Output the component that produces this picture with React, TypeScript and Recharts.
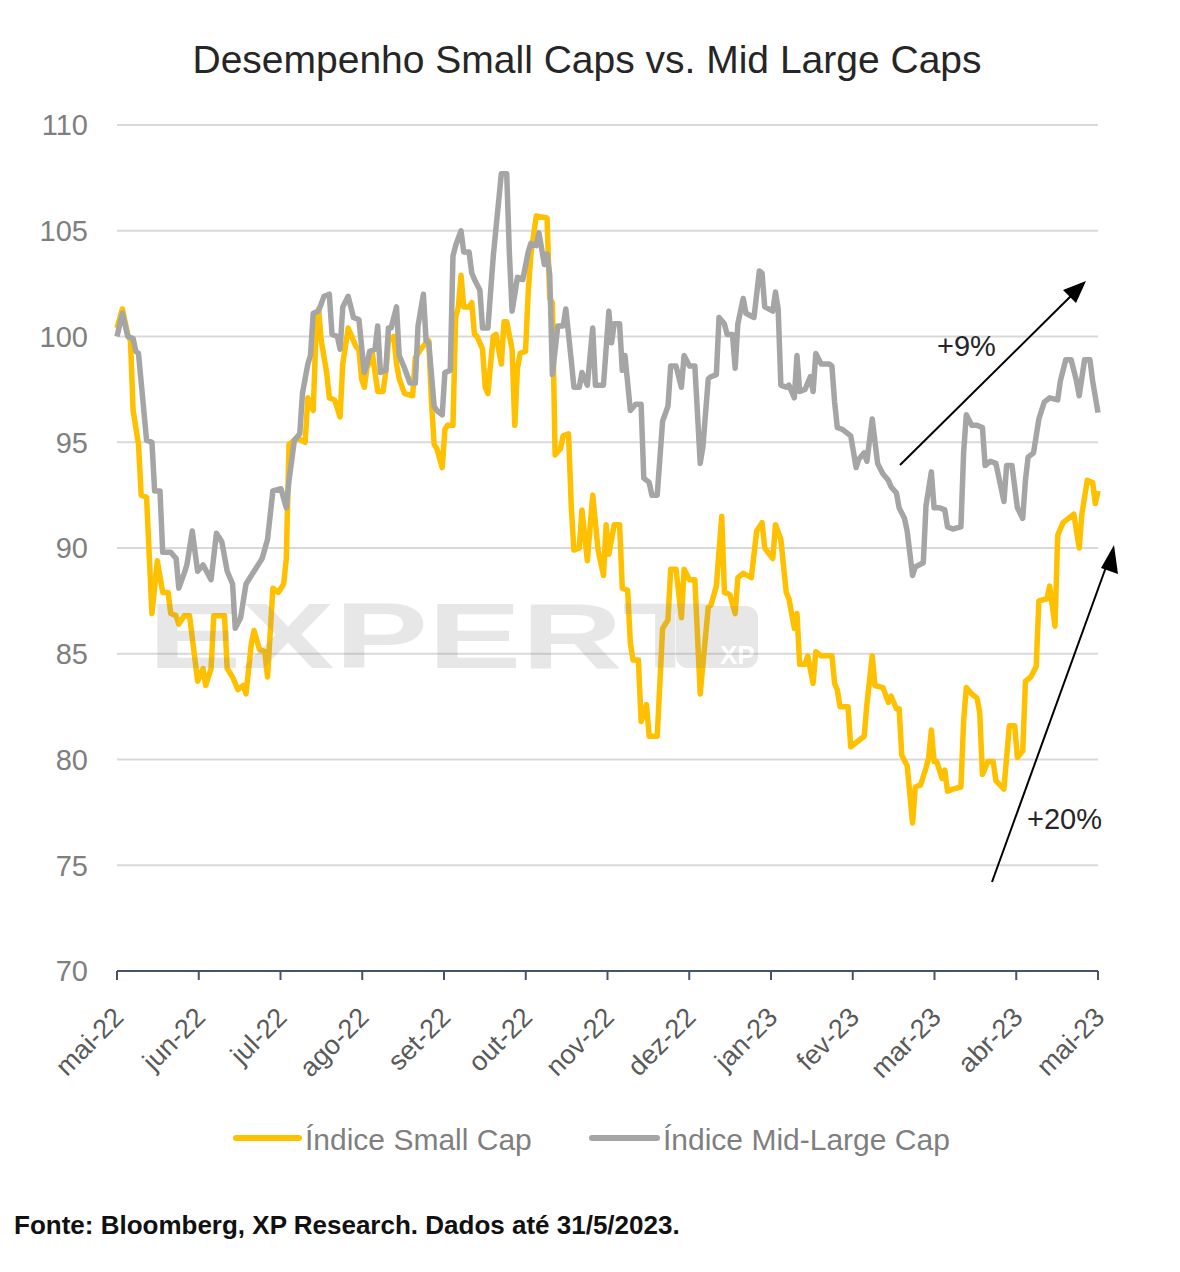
import React from 'react';
import { LineChart, Line, XAxis, YAxis, CartesianGrid } from 'recharts';

// Month labels on the x axis (mai-22 .. mai-23), 365 days span
const monthLabels = [
  'mai-22', 'jun-22', 'jul-22', 'ago-22', 'set-22', 'out-22', 'nov-22',
  'dez-22', 'jan-23', 'fev-23', 'mar-23', 'abr-23', 'mai-23',
];
const yTicks = [70, 75, 80, 85, 90, 95, 100, 105, 110];

// [day since 1/5/2022, index value]
const smallCap: [number, number][] = [
  [0, 100.4], [2, 101.3], [4, 100.1], [5, 99.8], [6, 96.5], [8, 94.9], [9, 92.5], [11, 92.4],
  [13, 86.9], [15, 89.4], [17, 87.9], [19, 87.9], [20, 86.9], [22, 86.8], [23, 86.4], [25, 86.8],
  [27, 86.8], [30, 83.7], [32, 84.3], [33, 83.5], [35, 84.3], [36, 86.8], [40, 86.8], [41, 84.3],
  [43, 83.9], [45, 83.3], [47, 83.5], [48, 83.1], [50, 85.5], [51, 86.1], [53, 85.2], [55, 85.1],
  [56, 83.9], [58, 88.1], [60, 87.9], [62, 88.3], [63, 89.5], [64, 94.9], [67, 95.2], [70, 95.0],
  [71, 97.1], [73, 96.5], [74, 100.0], [75, 101.3], [76, 99.8], [78, 98.3], [79, 97.1], [81, 97.0],
  [83, 96.2], [84, 98.7], [86, 100.4], [87, 100.1], [89, 99.5], [90, 99.4], [91, 98.0], [92, 97.6],
  [93, 98.5], [95, 99.2], [97, 97.4], [99, 97.4], [100, 98.3], [101, 99.8], [103, 100.0], [104, 98.7],
  [105, 98.0], [107, 97.3], [110, 97.2], [111, 99.0], [113, 99.4], [115, 99.7], [116, 99.8], [117, 96.9],
  [118, 94.9], [119, 94.7], [121, 93.8], [122, 95.6], [123, 95.8], [125, 95.8], [126, 100.9], [127, 101.4],
  [128, 102.9], [129, 101.4], [131, 101.4], [132, 101.6], [133, 100.1], [134, 100.0], [136, 99.4], [137, 97.6],
  [138, 97.3], [139, 98.7], [140, 100.0], [141, 100.1], [143, 98.7], [144, 100.7], [145, 100.7], [147, 99.4],
  [148, 95.8], [149, 98.5], [150, 99.2], [152, 99.3], [153, 102.1], [154, 103.9], [156, 105.7], [160, 105.6],
  [161, 101.8], [162, 101.6], [163, 94.4], [165, 94.7], [166, 95.3], [168, 95.4], [169, 92.0], [170, 89.9],
  [172, 90.0], [173, 91.8], [175, 89.4], [177, 92.5], [179, 89.9], [181, 88.7], [182, 91.1], [183, 89.7],
  [185, 91.1], [187, 91.1], [188, 88.1], [190, 88.0], [191, 85.5], [192, 84.7], [194, 84.7], [195, 81.8],
  [197, 82.6], [198, 81.1], [201, 81.1], [203, 86.2], [205, 86.6], [206, 89.0], [208, 89.0], [210, 86.7],
  [211, 89.0], [213, 88.5], [215, 88.5], [217, 83.1], [218, 84.5], [220, 87.2], [221, 87.3], [223, 88.2],
  [225, 91.5], [226, 87.9], [228, 87.8], [230, 86.9], [231, 88.6], [233, 88.8], [236, 88.6], [238, 90.8],
  [240, 91.2], [241, 90.0], [244, 89.5], [245, 91.1], [247, 90.4], [249, 87.9], [250, 87.6], [252, 86.2],
  [253, 86.9], [254, 84.5], [256, 84.5], [257, 84.9], [259, 83.6], [260, 85.1], [262, 84.9], [266, 84.9],
  [267, 83.6], [268, 83.3], [269, 82.5], [272, 82.5], [273, 80.6], [276, 80.9], [278, 81.1], [279, 82.6],
  [281, 84.9], [282, 83.5], [285, 83.4], [287, 82.7], [288, 83.0], [290, 82.4], [291, 82.4], [292, 80.2],
  [294, 79.7], [296, 77.0], [297, 78.7], [299, 78.8], [301, 79.6], [302, 80.1], [303, 81.4], [304, 79.9],
  [305, 79.9], [307, 79.1], [308, 79.5], [309, 78.5], [311, 78.6], [314, 78.7], [315, 81.8], [316, 83.4],
  [318, 83.1], [320, 82.9], [321, 82.2], [322, 79.3], [324, 79.9], [326, 79.9], [327, 79.0], [330, 78.6],
  [332, 81.6], [334, 81.6], [335, 80.1], [337, 80.4], [338, 83.7], [340, 83.9], [342, 84.4], [343, 87.5],
  [346, 87.6], [347, 88.2], [349, 86.3], [350, 90.6], [352, 91.2], [354, 91.4], [356, 91.6], [358, 90.0],
  [359, 91.6], [361, 93.2], [363, 93.1], [364, 92.1], [365, 92.7],
];

const midLargeCap: [number, number][] = [
  [0, 100.0], [2, 101.1], [4, 100.0], [6, 99.9], [7, 99.3], [8, 99.2], [11, 95.1], [13, 95.0],
  [14, 92.7], [16, 92.7], [17, 89.8], [20, 89.8], [22, 89.5], [23, 88.1], [25, 88.8], [26, 89.2],
  [28, 90.8], [30, 88.9], [32, 89.2], [35, 88.5], [37, 90.7], [39, 90.3], [41, 88.9], [43, 88.3],
  [44, 86.2], [46, 86.7], [48, 88.3], [51, 88.9], [54, 89.5], [56, 90.4], [58, 92.7], [61, 92.8],
  [63, 91.9], [64, 93.2], [66, 95.1], [68, 95.4], [69, 97.3], [71, 98.7], [72, 99.1], [73, 101.1],
  [75, 101.2], [77, 101.9], [79, 102.0], [80, 100.1], [82, 100.0], [83, 99.4], [84, 101.4], [86, 101.9],
  [88, 100.9], [90, 100.8], [92, 98.3], [93, 98.7], [94, 99.3], [96, 99.4], [97, 100.5], [98, 98.3],
  [100, 98.4], [101, 100.4], [102, 100.4], [104, 101.4], [105, 99.1], [107, 98.5], [109, 97.8], [111, 97.8],
  [112, 100.5], [114, 102.0], [115, 99.8], [116, 99.7], [118, 96.7], [119, 96.5], [121, 96.3], [122, 98.3],
  [124, 98.4], [125, 103.8], [126, 104.3], [128, 105.0], [129, 104.0], [131, 104.0], [132, 103.0], [133, 102.7],
  [135, 102.2], [136, 100.4], [138, 100.4], [140, 103.8], [141, 105.1], [143, 107.7], [145, 107.7], [146, 103.9],
  [147, 101.2], [149, 102.8], [151, 102.7], [153, 104.0], [154, 104.4], [156, 104.3], [157, 104.9], [159, 103.4],
  [160, 103.9], [161, 102.9], [162, 98.2], [164, 100.5], [166, 100.5], [167, 101.3], [169, 98.9], [170, 97.6],
  [172, 97.6], [173, 98.3], [175, 97.7], [177, 100.4], [178, 97.7], [181, 97.7], [183, 101.2], [184, 99.7],
  [185, 100.6], [187, 100.6], [188, 98.4], [189, 99.1], [191, 96.5], [193, 96.8], [195, 96.8], [196, 93.3],
  [198, 93.1], [199, 92.5], [201, 92.5], [203, 96.0], [205, 96.7], [206, 98.6], [208, 98.6], [210, 97.6],
  [211, 99.1], [213, 98.6], [215, 98.6], [217, 94.0], [218, 94.8], [220, 98.0], [221, 98.1], [223, 98.2],
  [224, 100.9], [226, 100.6], [227, 100.1], [229, 100.1], [230, 98.5], [231, 100.6], [233, 101.8], [234, 101.1],
  [237, 100.9], [238, 102.0], [239, 103.1], [240, 103.0], [241, 101.4], [244, 101.2], [245, 102.1], [246, 101.3],
  [247, 97.7], [249, 97.6], [250, 97.7], [252, 97.1], [253, 99.1], [254, 97.4], [256, 97.5], [258, 98.1],
  [259, 97.4], [260, 99.2], [262, 98.7], [265, 98.7], [266, 98.6], [267, 96.9], [268, 95.7], [270, 95.6],
  [273, 95.3], [275, 93.8], [276, 94.2], [278, 94.5], [279, 94.1], [281, 96.1], [283, 94.0], [285, 93.5],
  [287, 93.2], [288, 92.9], [290, 92.6], [291, 91.9], [293, 91.4], [294, 90.8], [296, 88.7], [297, 89.1],
  [300, 89.3], [301, 92.0], [303, 93.6], [304, 91.9], [306, 91.9], [308, 91.8], [309, 91.0], [311, 90.9],
  [314, 91.0], [315, 94.5], [316, 96.3], [318, 95.8], [320, 95.8], [322, 95.7], [323, 93.9], [325, 94.1],
  [327, 94.0], [329, 92.8], [330, 92.2], [331, 93.9], [333, 93.9], [335, 91.9], [337, 91.4], [338, 93.2],
  [339, 94.3], [341, 94.5], [343, 96.1], [345, 96.9], [347, 97.1], [350, 97.0], [351, 97.9], [353, 98.9],
  [355, 98.9], [357, 97.9], [358, 97.2], [360, 98.9], [362, 98.9], [363, 97.9], [365, 96.4],
];

const SMALL_COLOR = '#FFC000';
const MID_COLOR = '#A5A5A5';
const FONT = '"Liberation Sans", Arial, sans-serif';
const SPAN = 365;

const smallData = smallCap.map(([day, v]) => ({ day, v }));
const midData = midLargeCap.map(([day, v]) => ({ day, v }));
const monthTicks = monthLabels.map((_, i) => (i * SPAN) / (monthLabels.length - 1));

const MonthTick = (props: any) => {
  const { x, y, payload } = props;
  const idx = Math.round(payload.value / (SPAN / (monthLabels.length - 1)));
  const tx = x + 8;
  const ty = y + 37;
  return (
    <text
      x={tx}
      y={ty}
      transform={`rotate(-45 ${tx} ${ty})`}
      textAnchor="end"
      fontSize={27}
      fontFamily={FONT}
      fill="#595959"
    >
      {monthLabels[idx]}
    </text>
  );
};

const Overlay = () => (
  <svg
    width={1180}
    height={1272}
    style={{ position: 'absolute', left: 0, top: 0, pointerEvents: 'none' }}
    fontFamily={FONT}
  >
    <text x={587} y={73} textAnchor="middle" fontSize={39} fill="#262626">
      Desempenho Small Caps vs. Mid Large Caps
    </text>

    {/* watermark */}
    <g opacity={0.2}>
      <text x={148} y={668} fontSize={92} fontWeight="bold" fill="#8a8a8a" textLength={560} lengthAdjust="spacingAndGlyphs">
        EXPERT
      </text>
      <rect x={676} y={606} width={82} height={62} rx={12} fill="#8a8a8a" />
      <text x={720} y={664} fontSize={26} fontWeight="bold" fill="#fff">XP</text>
    </g>

    {/* annotations */}
    <line x1={900} y1={465} x2={1078} y2={289} stroke="#000" strokeWidth={2} />
    <path d="M1086,281 L1063,290 L1076,303 Z" fill="#000" />
    <text x={937} y={356} fontSize={29} fill="#262626">+9%</text>
    <line x1={992} y1={882} x2={1110} y2={556} stroke="#000" strokeWidth={2} />
    <path d="M1114,545 L1101,568 L1118,574 Z" fill="#000" />
    <text x={1027} y={829} fontSize={29} fill="#262626">+20%</text>

    {/* legend */}
    <line x1={236} y1={1138} x2={299} y2={1138} stroke={SMALL_COLOR} strokeWidth={6} strokeLinecap="round" />
    <text x={305} y={1150} fontSize={30} fill="#7f7f7f">Índice Small Cap</text>
    <line x1={592} y1={1138} x2={657} y2={1138} stroke={MID_COLOR} strokeWidth={6} strokeLinecap="round" />
    <text x={663} y={1150} fontSize={30} fill="#7f7f7f">Índice Mid-Large Cap</text>

    <text x={14} y={1234} fontSize={26} fontWeight="bold" fill="#111">
      Fonte: Bloomberg, XP Research. Dados até 31/5/2023.
    </text>
  </svg>
);

export default function App() {
  return (
    <div style={{ position: 'absolute', left: 0, top: 0, width: 1180, height: 1272, background: '#fff' }}>
      <LineChart width={1180} height={1100} margin={{ top: 125, right: 82, bottom: 29, left: 57 }}>
        <CartesianGrid vertical={false} stroke="#d9d9d9" strokeWidth={2} />
        <XAxis
          dataKey="day"
          type="number"
          domain={[0, SPAN]}
          ticks={monthTicks}
          interval={0}
          height={100}
          axisLine={{ stroke: '#44546A', strokeWidth: 2 }}
          tickLine={{ stroke: '#44546A', strokeWidth: 2 }}
          tickSize={9}
          tick={<MonthTick />}
        />
        <YAxis
          domain={[70, 110]}
          ticks={yTicks}
          width={60}
          axisLine={false}
          tickLine={false}
          tickSize={6}
          tickMargin={23}
          tick={{ fontSize: 29, fill: '#7f7f7f', fontFamily: FONT }}
          allowDataOverflow
        />
        <Line
          data={smallData}
          dataKey="v"
          type="linear"
          stroke={SMALL_COLOR}
          strokeWidth={5.5}
          dot={false}
          isAnimationActive={false}
          strokeLinejoin="round"
        />
        <Line
          data={midData}
          dataKey="v"
          type="linear"
          stroke={MID_COLOR}
          strokeWidth={5.5}
          dot={false}
          isAnimationActive={false}
          strokeLinejoin="round"
        />
      </LineChart>
      <Overlay />
    </div>
  );
}
